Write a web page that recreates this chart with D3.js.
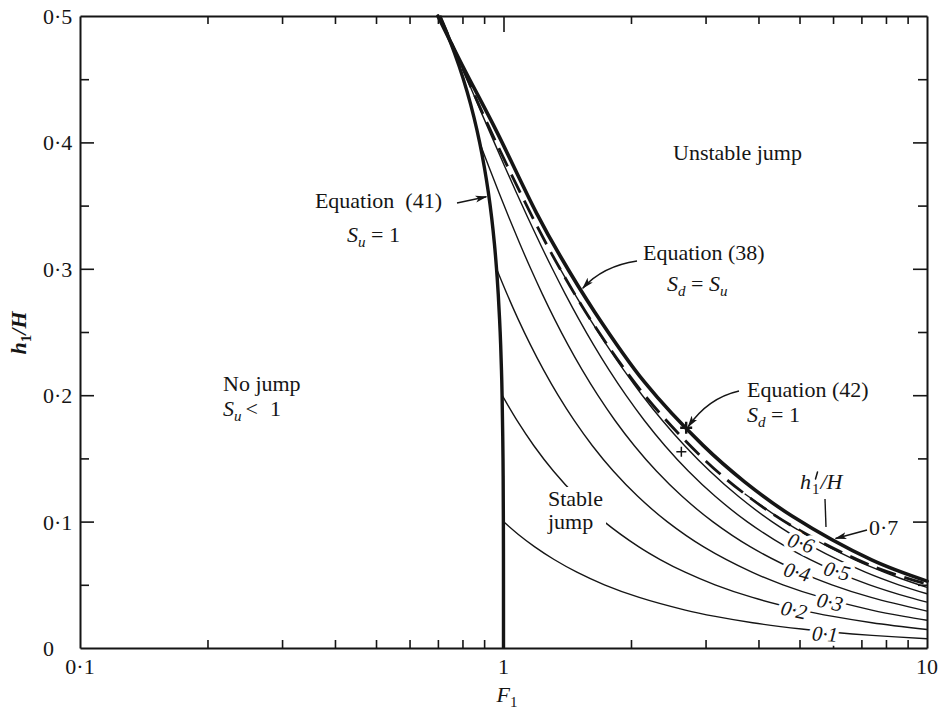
<!DOCTYPE html>
<html>
<head>
<meta charset="utf-8">
<title>Internal hydraulic jump regimes</title>
<script src="https://cdn.jsdelivr.net/npm/d3@7/dist/d3.min.js"></script>
<style>
  html, body { margin: 0; padding: 0; background: #fff; }
  svg text { font-family: "Liberation Serif", "Times New Roman", Times, serif; fill: #151515; }
</style>
</head>
<body>
<svg id="chart" width="941" height="712" xmlns="http://www.w3.org/2000/svg"></svg>
<script>
// ---- axis ticks ----
const xMajorTicks = [0.1, 1, 10];
const xMajorLabels = ["0·1", "1", "10"];
const xMinorTicks = [0.2, 0.3, 0.4, 0.5, 0.6, 0.7, 0.8, 0.9, 2, 3, 4, 5, 6, 7, 8, 9];
const yMajorTicks = [0, 0.1, 0.2, 0.3, 0.4, 0.5];
const yMajorLabels = ["0", "0·1", "0·2", "0·3", "0·4", "0·5"];
const yMinorTicks = [0.05, 0.15, 0.25, 0.35, 0.45];

// ---- boundary curves, points are [F1, h1/H] ----
// Equation (41): S_u = 1
const criticalUpstream = [[0.7071,0.50],[0.7483,0.48],[0.7862,0.46],[0.8206,0.44],[0.8514,0.42],
  [0.8783,0.40],[0.9015,0.38],[0.9214,0.36],[0.9380,0.34],[0.9517,0.32],[0.9628,0.30],
  [0.9718,0.28],[0.9820,0.25],[0.9890,0.22],[0.9923,0.20],[0.9973,0.15],[0.9993,0.10],
  [0.9999,0.05],[1.0,0.0]];
// Equation (38): S_d = S_u
const equalCriticality = [[0.70,0.500],[0.7975,0.4616],[0.9606,0.4095],[1.195,0.3445],[1.36,0.3103],
  [1.64,0.2661],[2.1535,0.2103],[2.96,0.1603],[3.71,0.1315],[4.8,0.1044],[7.4,0.0697],[10,0.0529]];
// Equation (42): S_d = 1
const criticalDownstream = [[0.7071,0.50],[0.7975,0.46],[0.9606,0.40],[1.195,0.335],[1.36,0.30],
  [1.64,0.255],[2.1535,0.20],[2.96,0.15],[3.71,0.122],[4.8,0.0965],[7.4,0.065],[10,0.0505]];

// ---- conjugate curves for a fixed downstream depth h1'/H ----
const depth01 = [[0.9993,0.100],[1.0823,0.090],[1.1853,0.080],[1.3166,0.070],[1.4903,0.060],
  [1.731,0.050],[2.0913,0.040],[2.687,0.030],[3.162,0.025],[3.873,0.020],[5.055,0.015],
  [6.0,0.0125],[7.416,0.010],[10,0.0073]];
const depth02 = [[0.9923,0.20],[1.0761,0.18],[1.1797,0.16],[1.3116,0.14],[1.4858,0.12],
  [1.7277,0.10],[2.0878,0.08],[2.3438,0.07],[2.684,0.06],[3.159,0.05],[3.870,0.04],
  [5.052,0.03],[5.997,0.025],[7.414,0.02],[10,0.0146]];
const depth03 = [[0.9628,0.30],[1.0193,0.28],[1.0834,0.26],[1.1571,0.24],[1.2431,0.22],
  [1.3451,0.20],[1.4685,0.18],[1.6214,0.16],[1.8164,0.14],[2.0746,0.12],[2.434,0.10],
  [2.970,0.08],[3.860,0.06],[4.570,0.05],[5.634,0.04],[7.405,0.03],[8.821,0.025],[10,0.022]];
const depth04 = [[0.8783,0.40],[0.9254,0.38],[0.9763,0.36],[1.0317,0.34],[1.0924,0.32],
  [1.1598,0.30],[1.2353,0.28],[1.3208,0.26],[1.4191,0.24],[1.5337,0.22],[1.6695,0.20],
  [1.8336,0.18],[2.037,0.16],[2.2963,0.14],[2.6397,0.12],[3.118,0.10],[3.831,0.08],
  [5.016,0.06],[5.963,0.05],[7.380,0.04],[10,0.0292]];
const depth05 = [[0.7071,0.50],[0.7506,0.48],[0.7963,0.46],[0.8447,0.44],[0.8959,0.42],
  [0.9508,0.40],[1.0097,0.38],[1.0735,0.36],[1.1431,0.34],[1.2196,0.32],[1.3044,0.30],
  [1.3994,0.28],[1.5071,0.26],[1.6307,0.24],[1.7747,0.22],[1.9452,0.20],[2.1512,0.18],
  [2.406,0.16],[2.7308,0.14],[3.161,0.12],[3.759,0.10],[4.651,0.08],[6.133,0.06],
  [7.315,0.05],[9.088,0.04],[10,0.0363]];
const depth06 = [[1.3609,0.30],[1.4735,0.28],[1.6016,0.26],[1.7491,0.24],[1.9213,0.22],
  [2.1255,0.20],[2.3725,0.18],[2.6784,0.16],[3.0684,0.14],[3.5846,0.12],[4.303,0.10],
  [5.375,0.08],[7.153,0.06],[8.573,0.05],[10,0.0429]];
const depth07 = [[3.71,0.122],[4.611,0.10],[5.163,0.09],[5.852,0.08],[6.738,0.07],
  [7.28,0.065],[8.669,0.055],[10,0.048]];
const depthLabels = ["0·1", "0·2", "0·3", "0·4", "0·5", "0·6"];

// two marked points near the upper boundary
const crossMarks = [[2.70, 0.1743], [2.63, 0.1553]];

// ---- drawing ----
const svg = d3.select("#chart");
const ink = "#151515";
const x = d3.scaleLog().domain([0.1, 10]).range([80, 927]);
const y = d3.scaleLinear().domain([0, 0.5]).range([648, 16]);

const defs = svg.append("defs");
defs.append("marker")
  .attr("id", "arrowhead").attr("viewBox", "0 0 12 8")
  .attr("refX", 11).attr("refY", 4)
  .attr("markerWidth", 12).attr("markerHeight", 8)
  .attr("markerUnits", "userSpaceOnUse").attr("orient", "auto")
  .append("path").attr("d", "M0,0.5L12,4L0,7.5L3,4Z").attr("fill", ink);

// frame and inward ticks
function styleAxis(g) {
  g.select(".domain").attr("stroke", ink).attr("stroke-width", 2);
  g.selectAll(".tick line").attr("stroke", ink).attr("stroke-width", 1.6);
  g.selectAll(".tick text").remove();
}
function noDomain(g) { g.select(".domain").remove(); }

svg.append("g").attr("transform", "translate(0,648)")
  .call(d3.axisBottom(x).tickValues(xMinorTicks).tickSize(-8).tickSizeOuter(0).tickFormat(""))
  .call(styleAxis);
svg.append("g").attr("transform", "translate(0,648)")
  .call(d3.axisBottom(x).tickValues([1]).tickSize(-16).tickSizeOuter(0).tickFormat(""))
  .call(styleAxis).call(noDomain);
svg.append("g").attr("transform", "translate(0,16)")
  .call(d3.axisTop(x).tickValues(xMinorTicks).tickSize(-8).tickSizeOuter(0).tickFormat(""))
  .call(styleAxis);
svg.append("g").attr("transform", "translate(0,16)")
  .call(d3.axisTop(x).tickValues([1]).tickSize(-16).tickSizeOuter(0).tickFormat(""))
  .call(styleAxis).call(noDomain);
svg.append("g").attr("transform", "translate(80,0)")
  .call(d3.axisLeft(y).tickValues(yMajorTicks.slice(1, -1)).tickSize(-14).tickSizeOuter(0).tickFormat(""))
  .call(styleAxis);
svg.append("g").attr("transform", "translate(80,0)")
  .call(d3.axisLeft(y).tickValues(yMinorTicks).tickSize(-9).tickSizeOuter(0).tickFormat(""))
  .call(styleAxis).call(noDomain);
svg.append("g").attr("transform", "translate(927,0)")
  .call(d3.axisRight(y).tickValues(yMajorTicks.slice(1, -1)).tickSize(-14).tickSizeOuter(0).tickFormat(""))
  .call(styleAxis);
svg.append("g").attr("transform", "translate(927,0)")
  .call(d3.axisRight(y).tickValues(yMinorTicks).tickSize(-9).tickSizeOuter(0).tickFormat(""))
  .call(styleAxis).call(noDomain);

// tick labels
svg.append("g").selectAll("text").data(xMajorTicks).join("text")
  .attr("x", d => x(d)).attr("y", 674).attr("text-anchor", "middle")
  .attr("font-size", 22).text((d, i) => xMajorLabels[i]);
svg.append("g").selectAll("text").data(yMajorTicks).join("text")
  .attr("x", 43).attr("y", d => y(d) + 8)
  .attr("font-size", 22).text((d, i) => yMajorLabels[i]);

// axis titles
const xTitle = svg.append("text").attr("x", 507).attr("y", 702).attr("text-anchor", "middle").attr("font-size", 22);
xTitle.append("tspan").attr("font-style", "italic").text("F");
xTitle.append("tspan").attr("font-size", 15).attr("dy", 5).text("1");

const yTitle = svg.append("text").attr("transform", "translate(26,333) rotate(-90)")
  .attr("text-anchor", "middle").attr("font-size", 22).attr("font-weight", "bold").attr("font-style", "italic");
yTitle.append("tspan").text("h");
yTitle.append("tspan").attr("font-size", 15).attr("dy", 5).attr("font-style", "normal").text("1");
yTitle.append("tspan").attr("dy", -5).text("/H");

// curves
const line = d3.line().x(d => x(d[0])).y(d => y(d[1])).curve(d3.curveCatmullRom.alpha(0.5));
const family = [depth01, depth02, depth03, depth04, depth05, depth06, depth07];

svg.append("g").selectAll("path").data(family).join("path")
  .attr("d", line).attr("fill", "none").attr("stroke", ink).attr("stroke-width", 1.4);

svg.append("path").attr("d", line(criticalDownstream)).attr("fill", "none")
  .attr("stroke", ink).attr("stroke-width", 2.8).attr("stroke-dasharray", "20,9");

svg.append("path").attr("d", line(equalCriticality)).attr("fill", "none")
  .attr("stroke", ink).attr("stroke-width", 3.6).attr("stroke-linecap", "round");
svg.append("path").attr("d", line(criticalUpstream)).attr("fill", "none")
  .attr("stroke", ink).attr("stroke-width", 3.4).attr("stroke-linecap", "butt");

// crosses
svg.append("g").selectAll("path").data(crossMarks).join("path")
  .attr("d", (d, i) => {
    const cx = x(d[0]), cy = y(d[1]), r = i === 0 ? 6 : 5;
    return `M${cx - r},${cy}H${cx + r}M${cx},${cy - r}V${cy + r}`;
  })
  .attr("stroke", ink).attr("stroke-width", (d, i) => i === 0 ? 2.4 : 1.5).attr("fill", "none");

// labels on the h1'/H curves
const labelSpots = [
  { cx: 825, cy: 634, rot: 4 },
  { cx: 794, cy: 610, rot: 12 },
  { cx: 830, cy: 602, rot: 12 },
  { cx: 797, cy: 572, rot: 15 },
  { cx: 837, cy: 571, rot: 15 },
  { cx: 801, cy: 543, rot: 18 }
];
svg.append("g").selectAll("text").data(depthLabels).join("text")
  .attr("transform", (d, i) => `translate(${labelSpots[i].cx},${labelSpots[i].cy}) rotate(${labelSpots[i].rot})`)
  .attr("text-anchor", "middle").attr("dy", "0.34em")
  .attr("font-size", 21).attr("font-style", "italic")
  .attr("stroke", "#fff").attr("stroke-width", 8).attr("stroke-linejoin", "round")
  .attr("paint-order", "stroke")
  .text(d => d);

// region labels
svg.append("text").attr("x", 673).attr("y", 160).attr("font-size", 22).text("Unstable jump");

svg.append("rect").attr("x", 544).attr("y", 487).attr("width", 62).attr("height", 50).attr("fill", "#fff");
svg.append("text").attr("x", 548).attr("y", 506).attr("font-size", 22).text("Stable");
svg.append("text").attr("x", 548).attr("y", 529).attr("font-size", 22).text("jump");

svg.append("text").attr("x", 223).attr("y", 391).attr("font-size", 22).text("No jump");
const noJump = svg.append("text").attr("x", 223).attr("y", 416).attr("font-size", 22);
noJump.append("tspan").attr("font-style", "italic").text("S");
noJump.append("tspan").attr("font-style", "italic").attr("font-size", 15).attr("dy", 5).text("u");
noJump.append("tspan").attr("dy", -5).attr("dx", 4).text("<");
noJump.append("tspan").attr("dx", 12).text("1");

// equation annotations
function subLabel(px, py, parts) {
  const t = svg.append("text").attr("x", px).attr("y", py).attr("font-size", 22);
  parts.forEach(p => {
    const s = t.append("tspan").text(p.t);
    if (p.italic) s.attr("font-style", "italic");
    if (p.sub) s.attr("font-size", 15).attr("dy", 5);
    if (p.up) s.attr("dy", -5);
    if (p.dx) s.attr("dx", p.dx);
  });
  return t;
}

svg.append("text").attr("x", 442).attr("y", 208).attr("text-anchor", "end").attr("font-size", 22)
  .call(t => { t.append("tspan").text("Equation"); t.append("tspan").attr("dx", 11).text("(41)"); });
subLabel(347, 242, [{ t: "S", italic: true }, { t: "u", italic: true, sub: true }, { t: " = 1", up: true }]);

svg.append("text").attr("x", 643).attr("y", 260).attr("font-size", 22).text("Equation (38)");
subLabel(667, 291, [{ t: "S", italic: true }, { t: "d", italic: true, sub: true },
  { t: " = ", up: true }, { t: "S", italic: true }, { t: "u", italic: true, sub: true }]);

svg.append("text").attr("x", 747).attr("y", 397).attr("font-size", 22).text("Equation (42)");
subLabel(747, 422, [{ t: "S", italic: true }, { t: "d", italic: true, sub: true }, { t: " = 1", up: true }]);

// h1'/H family label with leader; the prime is a short stroke above the subscript
const hLab = svg.append("text").attr("x", 800).attr("y", 489).attr("font-size", 22);
hLab.append("tspan").attr("font-style", "italic").text("h");
hLab.append("tspan").attr("font-size", 15).attr("dy", 5).attr("dx", 1).text("1");
hLab.append("tspan").attr("font-style", "italic").attr("dy", -5).attr("dx", 1).text("/H");
const hWidth = hLab.node().getSubStringLength(0, 1);
svg.append("line")
  .attr("x1", 800 + hWidth + 6.5).attr("y1", 472)
  .attr("x2", 800 + hWidth + 4.5).attr("y2", 479)
  .attr("stroke", ink).attr("stroke-width", 1.5).attr("stroke-linecap", "round");
svg.append("line").attr("x1", 825).attr("y1", 499).attr("x2", 826).attr("y2", 527)
  .attr("stroke", ink).attr("stroke-width", 1.4);

svg.append("text").attr("x", 869).attr("y", 535).attr("font-size", 22).text("0·7");

// arrows
const arrow = d => svg.append("path").attr("d", d).attr("fill", "none")
  .attr("stroke", ink).attr("stroke-width", 1.4).attr("marker-end", "url(#arrowhead)");

arrow(`M457,203 L${x(0.9234) - 2.5},${y(0.357)}`);
arrow(`M637,261 Q603,266 ${x(1.526) + 1.5},${y(0.2831) - 2}`);
arrow(`M739,391 Q708,398 ${x(2.70) + 2},${y(0.1743) - 1}`);
arrow(`M867,530 L${x(6.05) + 1},${y(0.0858) - 1}`);
</script>
</body>
</html>
